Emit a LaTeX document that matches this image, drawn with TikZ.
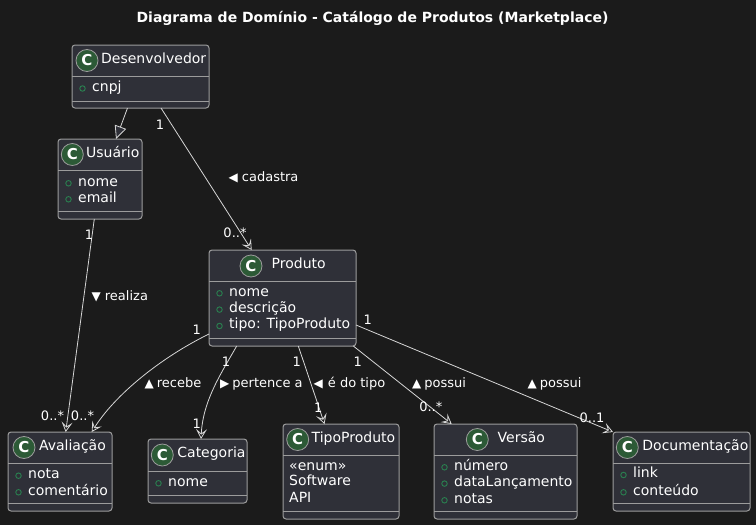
\documentclass[tikz,border=0pt]{standalone}
\usepackage{fontspec}
\setmainfont{DejaVu Sans}
\usetikzlibrary{arrows.meta,positioning}

\definecolor{bgdark}{HTML}{1B1B1B}
\definecolor{boxfill}{HTML}{2F3038}
\definecolor{boxgray}{HTML}{9C9C9C}
\definecolor{edgegray}{HTML}{D6D6D6}
\definecolor{spotgreen}{HTML}{2C5A36}
\definecolor{dotgreen}{HTML}{2A8050}

% class box: name, left, top, right, bottom, header line, attribute line
\newcommand{\umlbox}[7]{%
  \node[classbox, minimum width={#4-#2}, minimum height={#5-#3}] (#1) at (#2,#3) {};
  \draw[sepline] (#2,#6) -- (#4,#6);
  \draw[sepline] (#2,#7) -- (#4,#7);
}
% attribute line: node name, box left, y, text
\newcommand{\attr}[4]{%
  \node[attrdot] (#1-dot) at ({#2+10.5},#3) {};
  \node[attrtext] (#1) at ({#2+20},#3) {#4};
}
\newcommand{\trisize}{\fontsize{12}{12}\selectfont}

\begin{document}
\begin{tikzpicture}[x=1pt,y=-1pt,thin]
\tikzstyle{classbox}=[rectangle,draw=boxgray,fill=boxfill,line width=1pt,rounded corners=3pt,anchor=north west,outer sep=0pt,inner sep=0pt]
\tikzstyle{sepline}=[draw=boxgray,line width=1pt]
\tikzstyle{spot}=[circle,fill=spotgreen,draw=boxgray,line width=0.8pt,minimum size=22pt,inner sep=0pt,text=white,font=\bfseries\fontsize{15}{15}\selectfont]
\tikzstyle{headname}=[anchor=mid west,inner sep=0pt,text=white,font=\fontsize{14}{16}\selectfont]
\tikzstyle{attrtext}=[anchor=mid west,inner sep=0pt,text=white,font=\fontsize{14}{16}\selectfont]
\tikzstyle{attrdot}=[circle,draw=dotgreen,line width=0.9pt,minimum size=5.5pt,inner sep=0pt]
\tikzstyle{mult}=[inner sep=0pt,text=white,font=\fontsize{13}{13}\selectfont]
\tikzstyle{role}=[anchor=mid west,inner sep=0pt,text=white,font=\fontsize{13}{13}\selectfont]
\tikzstyle{assoc}=[draw=edgegray,line width=0.8pt,-{Stealth[open,length=10pt,width=11pt,inset=4.5pt]}]
\tikzstyle{extends}=[draw=edgegray,line width=0.8pt,-{Triangle[open,length=13pt,width=12pt,fill=boxfill]}]

\fill[bgdark] (0,0) rectangle (756,525);

\node[inner sep=0pt,text=white,font=\bfseries\fontsize{14}{16}\selectfont] (title) at (372.5,18.5) {Diagrama de Domínio - Catálogo de Produtos (Marketplace)};

% Desenvolvedor
\umlbox{Desenvolvedor}{72}{45}{209}{108}{76}{101}
\node[spot] (Desenvolvedor-spot) at (87,60.5) {C};
\node[headname] (Desenvolvedor-name) at (101,60.5) {Desenvolvedor};
\attr{Desenvolvedor-a1}{72}{88.5}{cnpj}

% Usuario
\umlbox{Usuario}{58}{139}{142}{219}{170.3}{211.7}
\node[spot] (Usuario-spot) at (72.3,154.5) {C};
\node[headname] (Usuario-name) at (86,154.5) {Usuário};
\attr{Usuario-a1}{58}{183.3}{nome}
\attr{Usuario-a2}{58}{199.3}{email}

% Produto
\umlbox{Produto}{209}{250}{356}{346}{281.7}{338.3}
\node[spot] (Produto-spot) at (251,266) {C};
\node[headname] (Produto-name) at (271.5,266) {Produto};
\attr{Produto-a1}{209}{293.3}{nome}
\attr{Produto-a2}{209}{309.6}{descrição}
\attr{Produto-a3}{209}{326}{tipo: TipoProduto}

% Avaliacao
\umlbox{Avaliacao}{8}{432}{112}{511}{463.7}{503.3}
\node[spot] (Avaliacao-spot) at (24,447.5) {C};
\node[headname] (Avaliacao-name) at (38.8,447.5) {Avaliação};
\attr{Avaliacao-a1}{8}{475.7}{nota}
\attr{Avaliacao-a2}{8}{492.3}{comentário}

% Categoria
\umlbox{Categoria}{148}{439}{247}{503}{471.3}{495.3}
\node[spot] (Categoria-spot) at (162.3,455) {C};
\node[headname] (Categoria-name) at (177.2,455) {Categoria};
\attr{Categoria-a1}{148}{483.3}{nome}

% TipoProduto
\umlbox{TipoProduto}{283}{424}{399}{519}{455.3}{511.3}
\node[spot] (TipoProduto-spot) at (297.7,439.5) {C};
\node[headname] (TipoProduto-name) at (311.5,439.5) {TipoProduto};
\node[attrtext] (TipoProduto-e1) at (289,467.7) {«enum»};
\node[attrtext] (TipoProduto-e2) at (289,483.2) {Software};
\node[attrtext] (TipoProduto-e3) at (289,499.3) {API};

% Versao
\umlbox{Versao}{434}{424}{577}{519}{455.3}{511}
\node[spot] (Versao-spot) at (477.3,439.5) {C};
\node[headname] (Versao-name) at (497.5,439.5) {Versão};
\attr{Versao-a1}{434}{467.3}{número}
\attr{Versao-a2}{434}{483.6}{dataLançamento}
\attr{Versao-a3}{434}{500.3}{notas}

% Documentacao
\umlbox{Documentacao}{613}{432}{750}{511}{463.3}{503}
\node[spot] (Documentacao-spot) at (627.3,447.5) {C};
\node[headname] (Documentacao-name) at (642.2,447.5) {Documentação};
\attr{Documentacao-a1}{613}{475}{link}
\attr{Documentacao-a2}{613}{492.3}{conteúdo}

% connectors
\draw[extends] ([xshift=-13pt]Desenvolvedor.south) -- ([xshift=16pt]Usuario.north);
\draw[assoc] ([xshift=20.5pt]Desenvolvedor.south) -- ([xshift=-30.8pt]Produto.north);
\draw[assoc] ([xshift=-5.7pt]Usuario.south) -- ([xshift=5.7pt]Avaliacao.north);
\draw[assoc] ([yshift=-36pt]Produto.west) .. controls (160,358) and (115,395) .. ([xshift=31.7pt]Avaliacao.north);
\draw[assoc] ([xshift=-45.8pt]Produto.south) .. controls (222,372) and (203,400) .. ([xshift=3.5pt]Categoria.north);
\draw[assoc] ([xshift=15.8pt]Produto.south) -- ([xshift=-16.5pt]TipoProduto.north);
\draw[assoc] ([xshift=70.8pt]Produto.south) -- ([xshift=-53.8pt]Versao.north);
\draw[assoc] ([yshift=-27pt]Produto.east) -- (Documentacao.north west);

% multiplicities
\node[mult] (m-cad-1) at (160,125) {1};
\node[mult] (m-cad-2) at (235,233) {0..*};
\node[mult] (m-rea-1) at (89,234.3) {1};
\node[mult] (m-rea-2) at (52.5,415.5) {0..*};
\node[mult] (m-rec-1) at (196.7,330) {1};
\node[mult] (m-rec-2) at (82.5,415.5) {0..*};
\node[mult] (m-per-1) at (226,361.7) {1};
\node[mult] (m-per-2) at (196.7,423.3) {1};
\node[mult] (m-tip-1) at (296.7,361.7) {1};
\node[mult] (m-tip-2) at (318.3,407.3) {1};
\node[mult] (m-ver-1) at (357.7,361.7) {1};
\node[mult] (m-ver-2) at (430.8,407) {0..*};
\node[mult] (m-doc-1) at (367.7,319.3) {1};
\node[mult] (m-doc-2) at (592,418) {0..1};

% association names
\node[role] (r-cadastra) at (228.5,178.3) {{\trisize ◀}\hspace{4pt}cadastra};
\node[role] (r-realiza) at (91.5,297.7) {{\trisize ▼}\hspace{4pt}realiza};
\node[role] (r-recebe) at (144.5,384.3) {{\trisize ▲}\hspace{3pt}recebe};
\node[role] (r-pertence) at (220,384.3) {{\trisize ▶}\hspace{3pt}pertence a};
\node[role] (r-tipo) at (313.5,384.3) {{\trisize ◀}\hspace{5pt}é do tipo};
\node[role] (r-possui1) at (412,384.3) {{\trisize ▲}\hspace{3pt}possui};
\node[role] (r-possui2) at (527.5,384.3) {{\trisize ▲}\hspace{3pt}possui};
\end{tikzpicture}
\end{document}
